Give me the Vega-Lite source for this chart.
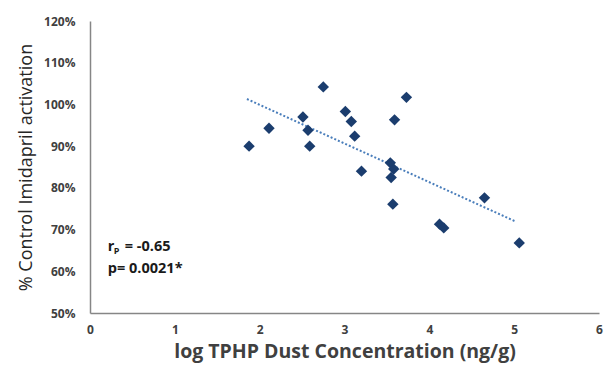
{
  "$schema": "https://vega.github.io/schema/vega-lite/v6.json",
  "width": 509,
  "height": 292,
  "autosize": "none",
  "padding": {"left": 90, "top": 21, "right": 8, "bottom": 52},
  "background": "white",
  "config": {"view": {"stroke": null}, "font": "Open Sans"},
  "datasets": {
    "pts": [
      {"x": 1.875, "y": 90.0}, {"x": 2.11, "y": 94.3}, {"x": 2.51, "y": 97.0}, {"x": 2.57, "y": 93.8},
      {"x": 2.59, "y": 90.0}, {"x": 2.75, "y": 104.2}, {"x": 3.01, "y": 98.3}, {"x": 3.08, "y": 95.9},
      {"x": 3.12, "y": 92.4}, {"x": 3.20, "y": 84.0}, {"x": 3.54, "y": 86.0}, {"x": 3.58, "y": 84.5},
      {"x": 3.55, "y": 82.5}, {"x": 3.59, "y": 96.3}, {"x": 3.73, "y": 101.7}, {"x": 3.57, "y": 76.1},
      {"x": 4.12, "y": 71.3}, {"x": 4.17, "y": 70.4}, {"x": 4.65, "y": 77.6}, {"x": 5.06, "y": 66.8}
    ],
    "trend": [{"x": 1.85, "y": 101.3}, {"x": 5.02, "y": 71.9}],
    "ann": [
      {"x": 0.21, "y": 65.9, "t": "r"},
      {"x": 0.21, "y": 60.5, "t": "p= 0.0021*"}
    ]
  },
  "layer": [
    {
      "data": {"name": "trend"},
      "mark": {"type": "line", "color": "#4a7ebb", "strokeWidth": 2, "strokeDash": [2, 2]},
      "encoding": {
        "x": {
          "field": "x", "type": "quantitative",
          "scale": {"domain": [0, 6]},
          "axis": {
            "values": [0, 1, 2, 3, 4, 5, 6], "format": "d", "grid": false, "ticks": false,
            "domainColor": "#868686", "domainWidth": 1.5,
            "labelFont": "Open Sans", "labelFontWeight": "bold", "labelFontSize": 12, "labelColor": "#404040",
            "labelPadding": 11, "labelFlush": false,
            "title": "log TPHP Dust Concentration (ng/g)",
            "titleFont": "Open Sans", "titleFontWeight": "bold", "titleFontSize": 19.5, "titleColor": "#404040",
            "titlePadding": 7
          }
        },
        "y": {
          "field": "y", "type": "quantitative",
          "scale": {"domain": [50, 120]},
          "axis": {
            "values": [50, 60, 70, 80, 90, 100, 110, 120], "grid": false, "ticks": false,
            "labelExpr": "datum.value + '%'",
            "domainColor": "#868686", "domainWidth": 1.5,
            "labelFont": "Open Sans", "labelFontWeight": "bold", "labelFontSize": 12, "labelColor": "#404040",
            "labelPadding": 15, "labelFlush": false,
            "title": "% Control Imidapril activation",
            "titleFont": "Open Sans", "titleFontWeight": "normal", "titleFontSize": 18, "titleColor": "#262626",
            "titlePadding": 8
          }
        }
      }
    },
    {
      "data": {"name": "pts"},
      "mark": {"type": "point", "shape": "diamond", "filled": true, "opacity": 1, "color": "#1b3d6e", "size": 130},
      "encoding": {
        "x": {"field": "x", "type": "quantitative"},
        "y": {"field": "y", "type": "quantitative"}
      }
    },
    {
      "data": {"name": "ann"},
      "mark": {"type": "text", "align": "left", "baseline": "middle", "font": "Open Sans", "fontWeight": "bold", "fontSize": 14.5, "color": "#1a1a1a"},
      "encoding": {
        "x": {"field": "x", "type": "quantitative"},
        "y": {"field": "y", "type": "quantitative"},
        "text": {"field": "t"}
      }
    },
    {
      "data": {"name": "ann"},
      "transform": [{"filter": "datum.t == 'r'"}],
      "mark": {"type": "text", "align": "left", "baseline": "middle", "font": "Open Sans", "fontWeight": "bold", "fontSize": 9, "color": "#1a1a1a", "dx": 6, "dy": 4},
      "encoding": {
        "x": {"field": "x", "type": "quantitative"},
        "y": {"field": "y", "type": "quantitative"},
        "text": {"value": "P"}
      }
    },
    {
      "data": {"name": "ann"},
      "transform": [{"filter": "datum.t == 'r'"}],
      "mark": {"type": "text", "align": "left", "baseline": "middle", "font": "Open Sans", "fontWeight": "bold", "fontSize": 14.5, "color": "#1a1a1a", "dx": 17},
      "encoding": {
        "x": {"field": "x", "type": "quantitative"},
        "y": {"field": "y", "type": "quantitative"},
        "text": {"value": "= -0.65"}
      }
    }
  ]
}
